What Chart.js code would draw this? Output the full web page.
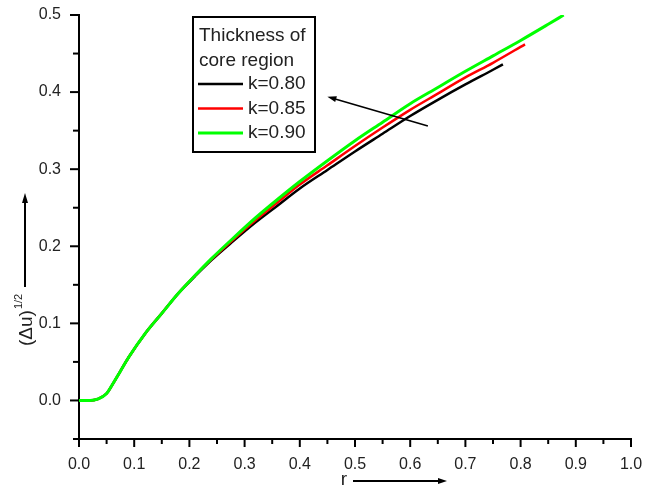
<!DOCTYPE html>
<html>
<head>
<meta charset="utf-8">
<script src="https://cdn.jsdelivr.net/npm/chart.js@4"></script>
<style>
  body { margin: 0; background: #fff; }
  #wrap { width: 646px; height: 491px; }
</style>
</head>
<body>
<div id="wrap"><canvas id="grafico" width="646" height="491"></canvas></div>
<script>
// k = 0.80 (black)
const rK80 = [0, 0.02, 0.035, 0.05, 0.06, 0.075, 0.09, 0.12, 0.15, 0.18, 0.21, 0.24, 0.28, 0.32, 0.36, 0.40, 0.45, 0.50, 0.55, 0.60, 0.65, 0.70, 0.75, 0.768]
const uK80 = [0, 0, 0.002, 0.009, 0.02, 0.038, 0.056, 0.087, 0.113, 0.139, 0.161, 0.182, 0.207, 0.231, 0.253, 0.275, 0.299, 0.323, 0.346, 0.369, 0.390, 0.410, 0.429, 0.436]
// k = 0.85 (red)
const rK85 = [0, 0.02, 0.035, 0.05, 0.06, 0.075, 0.09, 0.12, 0.15, 0.18, 0.21, 0.24, 0.28, 0.32, 0.36, 0.40, 0.45, 0.50, 0.55, 0.60, 0.65, 0.70, 0.75, 0.808]
const uK85 = [0, 0, 0.002, 0.009, 0.02, 0.038, 0.056, 0.087, 0.113, 0.139, 0.162, 0.183, 0.209, 0.234, 0.257, 0.280, 0.305, 0.330, 0.354, 0.377, 0.398, 0.419, 0.438, 0.462]
// k = 0.90 (green)
const rK90 = [0, 0.02, 0.035, 0.05, 0.06, 0.075, 0.09, 0.12, 0.15, 0.18, 0.21, 0.24, 0.28, 0.32, 0.36, 0.40, 0.45, 0.50, 0.55, 0.60, 0.65, 0.70, 0.75, 0.80, 0.85, 0.878]
const uK90 = [0, 0, 0.002, 0.009, 0.02, 0.038, 0.056, 0.087, 0.113, 0.139, 0.162, 0.184, 0.211, 0.237, 0.261, 0.284, 0.311, 0.337, 0.361, 0.385, 0.406, 0.427, 0.447, 0.467, 0.488, 0.5]

const etiquetas = ["k=0.80", "k=0.85", "k=0.90"]
const colores = ["#000000", "#ff0000", "#00ff00"]
const grosores = [2.5, 2.5, 3]
const tituloLeyenda = ["Thickness of", "core region"]

// ejes
const rMin = 0, rMax = 1.0, uMin = -0.05, uMax = 0.5, paso = 0.05

// flecha dentro del grafico (en unidades de datos)
const flechaDesde = { x: 0.632, y: 0.356 }
const flechaHasta = { x: 0.45, y: 0.394 }

const fuente = '"Liberation Sans", Arial, sans-serif'

const puntos = (rs, us) => rs.map((r, i) => ({ x: r, y: us[i] }))

const esMayor = (v) => Math.abs(v * 10 - Math.round(v * 10)) < 1e-6 && v > -1e-9

function flecha(ctx, x1, y1, x2, y2, largo, ancho) {
  const ang = Math.atan2(y2 - y1, x2 - x1)
  ctx.beginPath()
  ctx.moveTo(x1, y1)
  ctx.lineTo(x2 - Math.cos(ang) * largo * 0.8, y2 - Math.sin(ang) * largo * 0.8)
  ctx.stroke()
  ctx.beginPath()
  ctx.moveTo(x2, y2)
  ctx.lineTo(x2 - Math.cos(ang) * largo - Math.sin(ang) * ancho, y2 - Math.sin(ang) * largo + Math.cos(ang) * ancho)
  ctx.lineTo(x2 - Math.cos(ang) * largo + Math.sin(ang) * ancho, y2 - Math.sin(ang) * largo - Math.cos(ang) * ancho)
  ctx.closePath()
  ctx.fill()
}

const extras = {
  id: "extras",
  afterDraw(chart) {
    const ctx = chart.ctx
    const area = chart.chartArea
    const xs = chart.scales.x
    const ys = chart.scales.y
    ctx.save()
    ctx.strokeStyle = "#000"
    ctx.fillStyle = "#000"
    ctx.lineWidth = 2

    // marcas de los ejes
    xs.ticks.forEach((t) => {
      const px = xs.getPixelForValue(t.value)
      const l = esMayor(t.value) ? 8 : 5
      ctx.beginPath()
      ctx.moveTo(px, area.bottom)
      ctx.lineTo(px, area.bottom + l)
      ctx.stroke()
    })
    ys.ticks.forEach((t) => {
      const py = ys.getPixelForValue(t.value)
      const l = esMayor(t.value) ? 9 : 6
      ctx.beginPath()
      ctx.moveTo(area.left, py)
      ctx.lineTo(area.left - l, py)
      ctx.stroke()
    })

    // leyenda
    const lx = area.left + 114, ly = area.top + 2
    ctx.lineWidth = 2
    ctx.strokeRect(lx, ly, 122, 135)
    ctx.font = "19px " + fuente
    ctx.fillStyle = "#222"
    ctx.textAlign = "left"
    ctx.textBaseline = "middle"
    tituloLeyenda.forEach((txt, i) => ctx.fillText(txt, lx + 6, ly + 19 + i * 25))
    chart.data.datasets.forEach((ds, i) => {
      const yy = ly + 67 + i * 24.5
      ctx.strokeStyle = ds.borderColor
      ctx.lineWidth = ds.borderWidth
      ctx.beginPath()
      ctx.moveTo(lx + 5, yy)
      ctx.lineTo(lx + 50, yy)
      ctx.stroke()
      ctx.fillText(ds.label, lx + 55, yy)
    })

    // flecha
    ctx.strokeStyle = "#000"
    ctx.fillStyle = "#000"
    ctx.lineWidth = 1.6
    flecha(ctx, xs.getPixelForValue(flechaDesde.x), ys.getPixelForValue(flechaDesde.y),
      xs.getPixelForValue(flechaHasta.x), ys.getPixelForValue(flechaHasta.y), 9, 3)

    // titulo eje x
    ctx.fillStyle = "#222"
    ctx.font = "19px " + fuente
    ctx.textAlign = "center"
    ctx.fillText("r", 344, 480)
    ctx.fillStyle = "#000"
    ctx.lineWidth = 2
    flecha(ctx, 353, 481, 447, 481, 9, 3)

    // titulo eje y
    ctx.save()
    ctx.translate(27, 346)
    ctx.rotate(-Math.PI / 2)
    ctx.fillStyle = "#222"
    ctx.textAlign = "left"
    ctx.font = "19px " + fuente
    ctx.fillText("(\u0394u)", 0, 0)
    const w = ctx.measureText("(\u0394u)").width
    ctx.font = "11px " + fuente
    ctx.fillText("1/2", w + 1, -8)
    ctx.restore()
    ctx.fillStyle = "#000"
    ctx.lineWidth = 2
    flecha(ctx, 25, 287, 25, 193, 10, 3)

    ctx.restore()
  }
}

const lienzo = document.getElementById("grafico")

new Chart(lienzo, {
  type: "line",
  data: {
    datasets: [
      { label: etiquetas[0], data: puntos(rK80, uK80), borderColor: colores[0], borderWidth: grosores[0], order: 2 },
      { label: etiquetas[1], data: puntos(rK85, uK85), borderColor: colores[1], borderWidth: grosores[1], order: 1 },
      { label: etiquetas[2], data: puntos(rK90, uK90), borderColor: colores[2], borderWidth: grosores[2], order: 0 },
    ],
  },
  options: {
    responsive: false,
    animation: false,
    layout: { padding: { top: 15, right: 15, left: 0, bottom: 0 } },
    elements: {
      point: { radius: 0 },
      line: { cubicInterpolationMode: "monotone", fill: false },
    },
    plugins: {
      legend: { display: false },
      tooltip: { enabled: false },
    },
    scales: {
      x: {
        type: "linear",
        min: rMin,
        max: rMax,
        grid: { display: false },
        border: { display: true, color: "#000", width: 2 },
        ticks: {
          stepSize: paso,
          autoSkip: false,
          maxRotation: 0,
          padding: 8,
          color: "#222",
          font: { family: fuente, size: 16 },
          callback: (v) => (esMayor(v) ? v.toFixed(1) : ""),
        },
        afterFit: (s) => { s.height = 52; s.paddingLeft = 0; s.paddingRight = 0 },
      },
      y: {
        min: uMin,
        max: uMax,
        grid: { display: false },
        border: { display: true, color: "#000", width: 2 },
        ticks: {
          stepSize: paso,
          autoSkip: false,
          padding: 10,
          color: "#222",
          font: { family: fuente, size: 16 },
          callback: (v) => (esMayor(v) ? v.toFixed(1) : ""),
        },
        afterFit: (s) => { s.width = 79; s.paddingTop = 0; s.paddingBottom = 0 },
      },
    },
  },
  plugins: [extras],
})
</script>
</body>
</html>
